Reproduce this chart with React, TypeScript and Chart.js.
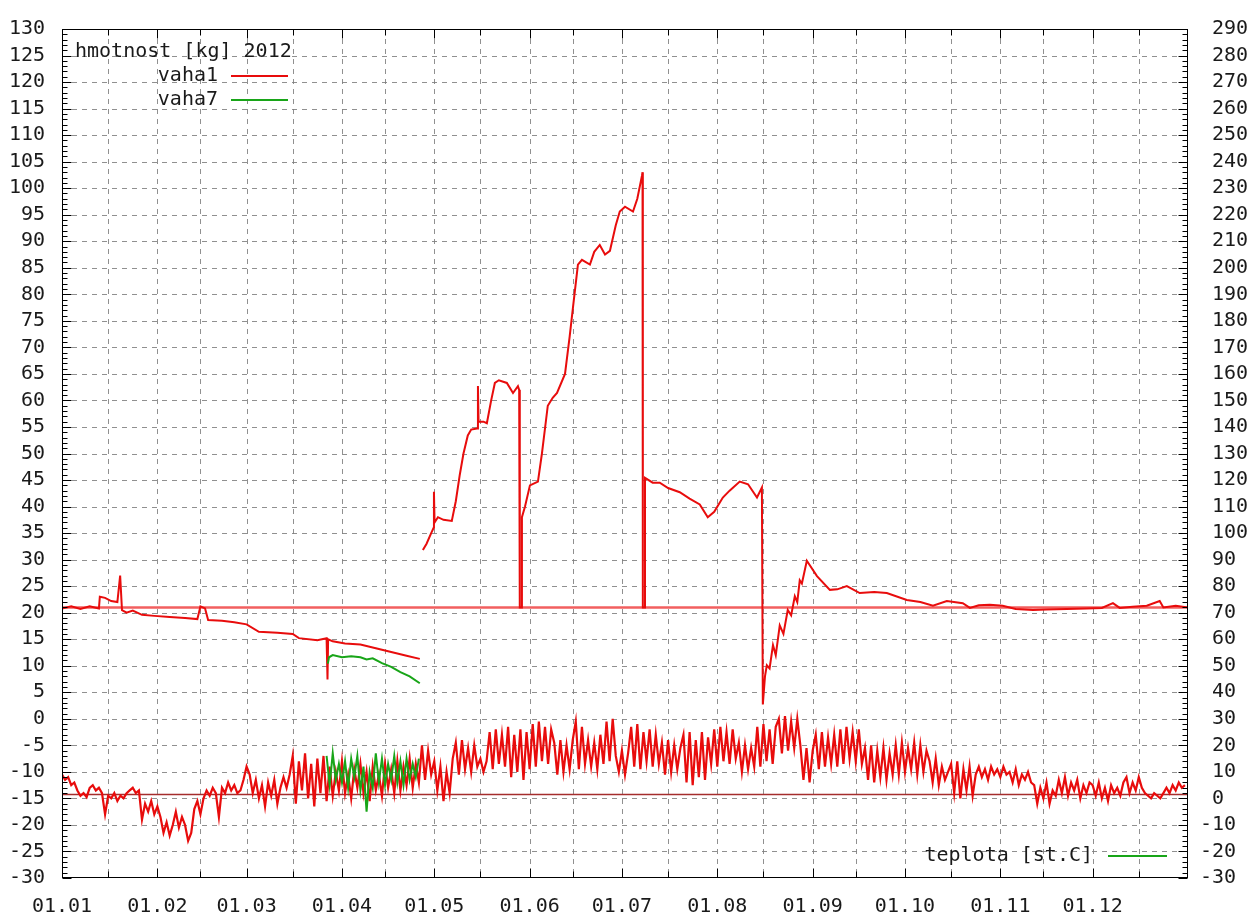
import React, { useEffect, useRef } from 'react';
import { Chart, registerables } from 'chart.js';

Chart.register(...registerables);

// ---- axis / label data ----
const monthStartDays = [0, 31, 60, 91, 121, 152, 182, 213, 244, 274, 305, 335];
const monthLabels = ['01.01', '01.02', '01.03', '01.04', '01.05', '01.06', '01.07', '01.08', '01.09', '01.10', '01.11', '01.12'];
const midMonthDays = [15, 45, 75, 105, 136, 166, 197, 228, 258, 289, 319, 350];

const legendTitle = 'hmotnost [kg] 2012';
const seriesNames = ['vaha1', 'vaha7'];
const tempLegend = 'teplota [st.C]';

const weightMin = -30;
const weightMax = 130;
const tempMin = -30;
const tempMax = 290;

// reference lines
const refWeight = 21; // kg
const refTemp = 1.5; // st.C

// ---- weight of hive 1: [day of year, kg] (null = gap) ----
const vaha1Weight: [number, number | null][] = [
  [0, 20.8], [3, 21.2], [6, 20.7], [9, 21.2], [12, 20.8], [12.3, 23], [14, 22.8], [16, 22.2], [18, 22],
  [18.9, 27], [19.5, 20.5], [21, 20], [23, 20.4], [26, 19.6], [30, 19.4], [35, 19.2], [40, 19], [44, 18.8],
  [45, 21.2], [46.5, 20.8], [47.5, 18.6], [52, 18.5], [56, 18.2], [60, 17.8], [64, 16.4], [70, 16.2],
  [75, 16], [77, 15.2], [83, 14.8], [86, 15.2], [86.3, 7.4], [86.5, 15], [88, 14.6], [92, 14.2], [97, 14],
  [102, 13.3], [107, 12.6], [112, 11.9], [116.3, 11.3], [116.8, null],
  [117.3, 31.8], [118.5, 33], [120, 35], [120.8, 36], [120.9, 42.8], [121.1, 37], [122.2, 38], [124, 37.5],
  [126.7, 37.3], [128, 41], [129.3, 46], [130.5, 50], [131.9, 53.4], [133, 54.5], [134.9, 54.7],
  [135.2, 62.7], [135.4, 56], [137, 56], [138.1, 55.7], [139.5, 60], [140.7, 63.3], [142, 63.8],
  [144.6, 63.3], [146.6, 61.4], [148.2, 62.7], [148.6, 62], [148.8, 21], [149.2, 21], [149.5, 38],
  [150.5, 40], [152.1, 44], [154.7, 44.7], [156, 50], [157.9, 59], [159.5, 60.5], [160.9, 61.4],
  [163.5, 65], [165, 72], [166.1, 77.6], [167.7, 85.6], [169, 86.5], [171.6, 85.6], [173, 88],
  [174.8, 89.3], [176.5, 87.5], [178.1, 88.2], [180, 93], [181.3, 95.6], [183, 96.5], [185.6, 95.6],
  [187, 98], [188.5, 102.3], [188.7, 103], [188.8, 21], [189.2, 21], [189.5, 45.4], [192, 44.5],
  [194.3, 44.5], [197, 43.5], [200.8, 42.7], [204, 41.5], [207.3, 40.4], [209.9, 38], [212, 39],
  [214.8, 41.7], [217, 43], [220.3, 44.7], [223, 44.2], [225.9, 41.7], [227.5, 43.6], [227.8, 2.7],
  [228.5, 8], [229.1, 10.1], [230, 9.5], [231.1, 13.9], [232, 12], [233.3, 17.6], [234.5, 16],
  [235.9, 20.5], [237, 19.5], [238.2, 23.1], [239, 22], [239.8, 26.1], [240.5, 25.5], [242.1, 29.8],
  [245.4, 26.9], [249.6, 24.3], [252, 24.4], [255.1, 25], [259.3, 23.7], [264, 23.9], [268.1, 23.7],
  [274.6, 22.4], [279, 22], [283.1, 21.3], [287.6, 22.2], [292.8, 21.8], [295.1, 20.9], [298, 21.4],
  [301.6, 21.5], [305.8, 21.3], [310, 20.7], [315.6, 20.5], [320, 20.6], [326.6, 20.7], [333, 20.8],
  [338, 20.9], [341.6, 21.8], [343.8, 20.9], [348, 21.1], [352.6, 21.3], [356.8, 22.2], [358, 21],
  [362, 21.3], [365.9, 21],
];

// ---- weight of hive 7: [day of year, kg] ----
const vaha7Weight: [number, number][] = [
  [86.4, 10.4], [86.8, 11.6], [88, 12], [91, 11.6], [94, 11.8], [97, 11.6], [99, 11.2], [101, 11.4],
  [104, 10.5], [107, 9.8], [110, 8.8], [113, 8], [116.3, 6.7],
];

// ---- temperature hive 1, one value per day of year (st.C) ----
const vaha1Temp: number[] = [
  9, 7, 8, 5, 6,
  3, 1, 2, 0.5,
  4, 5, 3, 4,
  2, -6, 1,
  0, 2, -1, 1, 0, 2,
  3, 4, 2, 3,
  -8,
  -2, -5, -1, -6, -3,
  -7, -13, -9, -14, -10,
  -5, -11, -7,
  -10, -16, -13, -4,
  -1, -6, 0,
  3, 1, 4, 2,
  -7,
  4, 2, 6, 3, 5, 2,
  3,
  7, 12,
  9, 2, 7, 0,
  5, -3, 6, 1, 7, -2, 4,
  8, 4, 9,
  16, -2, 14, 3, 17, 0, 13, -3, 15, 2, 16, -1,
  12, 1, 10, 3, 14, 2, 9, 0, 11, 4, 13, 2, 10, -1, 12, 3, 9, 1, 13, 4, 11, 2, 14, 3, 12, 5, 15, 4, 13, 6,
  20, 7, 18, 9,
  14, 3, 12, -1, 10, 2, 15,
  21, 9, 22, 11, 19, 10, 20, 12,
  15, 10, 14,
  25, 11, 26, 13, 24, 12,
  27, 8, 24, 10, 26, 7, 25, 11,
  28, 12, 29, 14, 27, 13, 26,
  21, 9, 22, 10, 20, 11, 22,
  29, 11, 27, 13,
  22, 12, 21, 11, 24,
  13, 29, 14, 30, 16,
  10, 18, 9, 17,
  27, 12, 28, 11, 25, 14, 26, 12, 24, 13,
  21, 9, 22, 10, 20, 11, 19,
  24, 6, 25, 5, 22, 8, 25, 7, 23,
  13, 26, 12, 27, 14, 25, 13, 26, 15,
  21, 10, 20, 11, 19, 12,
  27, 12, 28, 14, 26, 13, 27,
  30, 17, 31, 18, 29, 19, 30,
  20, 7, 19, 6, 18,
  24, 11, 25, 12, 23, 13, 24, 12,
  26, 13, 27, 15, 25, 14, 26, 13,
  19, 7, 20, 6, 18, 8, 19, 7, 17, 9,
  20, 9, 21, 10, 19, 11, 21, 9, 20, 10, 18,
  14, 6, 15, 5, 12, 7, 10,
  13, 2, 14, 0, 11, 3, 12, 1, 9,
  12, 8, 11, 7, 12, 9, 11, 8, 12, 9,
  10, 6, 11, 5, 9, 7, 10, 6,
  5, -2, 4, 0, 6, -2, 3, 1,
  7, 2, 8, 1, 6, 3, 7, 0, 5, 2, 6,
  5, 1, 6, 0, 4, -1, 5, 2, 4, 1, 6,
  8, 2, 6, 3, 8, 4,
  2, 1, 0, 2, 1, 0, 2,
  4, 2, 5, 3, 6, 4, 5,
];

// ---- temperature hive 7, days 86..116 (st.C) ----
const vaha7TempStartDay = 86;
const vaha7Temp: number[] = [
  16, 5, 17, 7, 13, 6, 14, 4, 15, 8, 16, 3, 12, -5, 10, 4, 17, 6, 15, 5, 13, 7, 16, 6, 14, 5, 15, 7, 13, 8, 15,
];

const RED = 'rgb(232,12,12)';
const GREEN = 'rgb(24,165,24)';
const FONT = '"DejaVu Sans Mono", "Liberation Mono", monospace';
const TEXT = '#1a1a1a';

const decor = {
  id: 'decor',
  beforeDatasetsDraw(chart: any) {
    const { ctx, chartArea: a, scales } = chart;
    const y = scales.y;
    const x = scales.x;
    ctx.save();
    ctx.strokeStyle = 'rgba(125,125,125,0.85)';
    ctx.lineWidth = 1;
    ctx.setLineDash([5, 5]);
    y.ticks.forEach((t: any) => {
      if (t.value <= weightMin || t.value >= weightMax) return;
      const py = Math.round(y.getPixelForValue(t.value)) + 0.5;
      ctx.beginPath();
      ctx.moveTo(a.left, py);
      ctx.lineTo(a.right, py);
      ctx.stroke();
    });
    [...monthStartDays, ...midMonthDays].forEach((d) => {
      if (d <= 0) return;
      const px = Math.round(x.getPixelForValue(d)) + 0.5;
      ctx.beginPath();
      ctx.moveTo(px, a.top);
      ctx.lineTo(px, a.bottom);
      ctx.stroke();
    });
    ctx.restore();
  },
  afterDatasetsDraw(chart: any) {
    const { ctx, chartArea: a, scales } = chart;
    const y = scales.y;
    const y2 = scales.y2;
    const x = scales.x;
    ctx.save();
    ctx.setLineDash([]);
    ctx.strokeStyle = '#000';
    ctx.lineWidth = 1;
    const L = Math.round(a.left) + 0.5;
    const R = Math.round(a.right) - 0.5;
    const T = Math.round(a.top) + 0.5;
    const B = Math.round(a.bottom) - 0.5;
    ctx.strokeRect(L, T, R - L, B - T);
    ctx.beginPath();
    for (let v = weightMin; v <= weightMax; v += 1) {
      const py = Math.round(y.getPixelForValue(v)) + 0.5;
      const len = v % 5 === 0 ? 9 : 5;
      ctx.moveTo(L, py);
      ctx.lineTo(L + len, py);
    }
    for (let v = tempMin; v <= tempMax; v += 2) {
      const py = Math.round(y2.getPixelForValue(v)) + 0.5;
      const len = v % 10 === 0 ? 9 : 5;
      ctx.moveTo(R, py);
      ctx.lineTo(R - len, py);
    }
    monthStartDays.forEach((d) => {
      const px = Math.round(x.getPixelForValue(d)) + 0.5;
      ctx.moveTo(px, B);
      ctx.lineTo(px, B - 9);
      ctx.moveTo(px, T);
      ctx.lineTo(px, T + 9);
    });
    midMonthDays.forEach((d) => {
      const px = Math.round(x.getPixelForValue(d)) + 0.5;
      ctx.moveTo(px, B);
      ctx.lineTo(px, B - 6);
      ctx.moveTo(px, T);
      ctx.lineTo(px, T + 6);
    });
    ctx.stroke();

    // key
    ctx.font = `20px ${FONT}`;
    ctx.fillStyle = TEXT;
    ctx.textBaseline = 'middle';
    ctx.textAlign = 'left';
    ctx.fillText(legendTitle, a.left + 13, a.top + 23);
    ctx.textAlign = 'right';
    const colors = [RED, GREEN];
    seriesNames.forEach((name, i) => {
      const cy = a.top + 47 + i * 24;
      ctx.fillStyle = TEXT;
      ctx.fillText(name, a.left + 156, cy);
      ctx.strokeStyle = colors[i];
      ctx.lineWidth = 2;
      ctx.beginPath();
      ctx.moveTo(a.left + 169, cy);
      ctx.lineTo(a.left + 226, cy);
      ctx.stroke();
    });
    const by = a.bottom - 22;
    ctx.fillStyle = TEXT;
    ctx.fillText(tempLegend, a.right - 95, by);
    ctx.strokeStyle = GREEN;
    ctx.lineWidth = 2;
    ctx.beginPath();
    ctx.moveTo(a.right - 80, by);
    ctx.lineTo(a.right - 21, by);
    ctx.stroke();
    ctx.restore();
  },
};

export default function App() {
  const ref = useRef<HTMLCanvasElement | null>(null);
  useEffect(() => {
    if (!ref.current) return;
    const tickFont = { family: FONT, size: 20 };
    const chart = new Chart(ref.current, {
      type: 'line',
      data: {
        datasets: [
          {
            label: 'vaha7 teplota',
            data: vaha7Temp.map((v, i) => ({ x: vaha7TempStartDay + i, y: v })),
            yAxisID: 'y2',
            borderColor: GREEN,
            borderWidth: 2,
            pointRadius: 0,
            order: 0,
          },
          {
            label: seriesNames[1],
            data: vaha7Weight.map(([d, v]) => ({ x: d, y: v })),
            yAxisID: 'y',
            borderColor: GREEN,
            borderWidth: 2,
            pointRadius: 0,
            order: 1,
          },
          {
            label: seriesNames[0],
            data: vaha1Weight.map(([d, v]) => ({ x: d, y: v })),
            yAxisID: 'y',
            borderColor: RED,
            borderWidth: 2,
            pointRadius: 0,
            spanGaps: false,
            order: 2,
          },
          {
            label: 'vaha1 teplota',
            data: vaha1Temp.map((v, i) => ({ x: i, y: v })),
            yAxisID: 'y2',
            borderColor: RED,
            borderWidth: 2.2,
            pointRadius: 0,
            order: 3,
          },
          {
            label: 'ref kg',
            data: [{ x: 0, y: refWeight }, { x: 366, y: refWeight }],
            yAxisID: 'y',
            borderColor: 'rgb(242,95,95)',
            borderWidth: 2.5,
            pointRadius: 0,
            order: 4,
          },
          {
            label: 'ref t',
            data: [{ x: 0, y: refTemp }, { x: 366, y: refTemp }],
            yAxisID: 'y2',
            borderColor: 'rgb(165,45,45)',
            borderWidth: 1.6,
            pointRadius: 0,
            order: 5,
          },
        ],
      },
      options: {
        responsive: false,
        devicePixelRatio: 1,
        animation: false,
        events: [],
        layout: { padding: { top: 20, left: 0, right: 0, bottom: 0 } },
        elements: { line: { tension: 0 } },
        plugins: { legend: { display: false }, tooltip: { enabled: false }, title: { display: false } },
        scales: {
          x: {
            type: 'linear',
            min: 0,
            max: 366,
            afterBuildTicks: (s: any) => {
              s.ticks = monthStartDays.map((v) => ({ value: v }));
            },
            afterFit: (s: any) => {
              s.height = 42;
            },
            grid: { display: false, drawTicks: false },
            border: { display: false },
            ticks: {
              autoSkip: false,
              maxRotation: 0,
              minRotation: 0,
              padding: 17,
              color: TEXT,
              font: tickFont,
              callback: (_v: any, i: number) => monthLabels[i],
            },
          },
          y: {
            type: 'linear',
            position: 'left',
            min: weightMin,
            max: weightMax,
            afterFit: (s: any) => {
              s.width = 62;
            },
            grid: { display: false, drawTicks: false },
            border: { display: false },
            ticks: { stepSize: 5, padding: 17, color: TEXT, font: tickFont, autoSkip: false, callback: (v: any) => String(v) },
          },
          y2: {
            type: 'linear',
            position: 'right',
            min: tempMin,
            max: tempMax,
            afterFit: (s: any) => {
              s.width = 61;
            },
            grid: { display: false, drawTicks: false },
            border: { display: false },
            ticks: {
              stepSize: 10,
              padding: 12,
              color: TEXT,
              font: tickFont,
              autoSkip: false,
              callback: (v: any) => (Number(v) < 0 ? String(v) : ' ' + v),
            },
          },
        },
      },
      plugins: [decor],
    } as any);
    return () => chart.destroy();
  }, []);
  return (
    <div style={{ position: 'fixed', left: 0, top: 0, width: 1249, height: 920, background: '#fff' }}>
      <canvas ref={ref} width={1249} height={920} style={{ display: 'block' }} />
    </div>
  );
}
